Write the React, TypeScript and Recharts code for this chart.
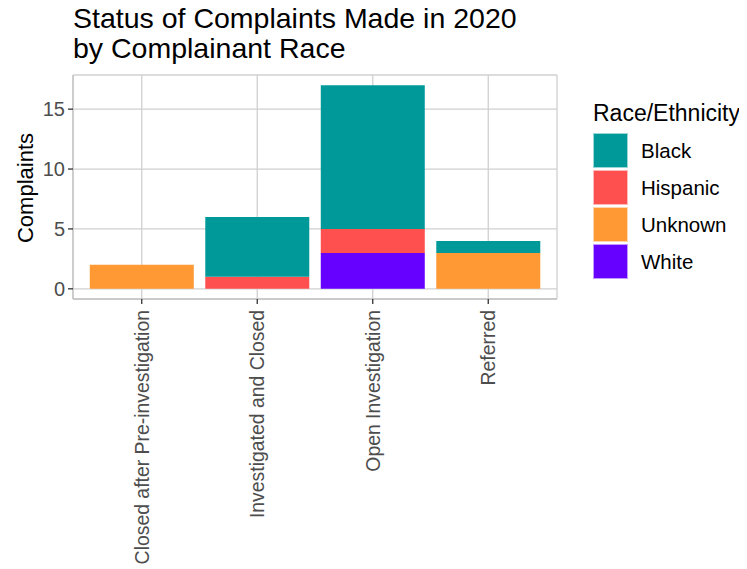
import { BarChart, Bar, XAxis, YAxis, CartesianGrid, Legend } from "recharts";

const categories = [
  "Closed after Pre-investigation",
  "Investigated and Closed",
  "Open Investigation",
  "Referred",
];
const black = [0, 5, 12, 1];
const hispanic = [0, 1, 2, 0];
const unknown = [2, 0, 0, 3];
const white = [0, 0, 3, 0];
const yTicks = [0, 5, 10, 15];

// legend order (top to bottom), stacks are drawn in reverse
const races = ["Black", "Hispanic", "Unknown", "White"];
const raceColors = ["#009999", "#FF5050", "#FF9933", "#6600FF"];

const data = categories.map((status, i) => ({
  status,
  Black: black[i],
  Hispanic: hispanic[i],
  Unknown: unknown[i],
  White: white[i],
}));

const FONT = '"Liberation Sans", Arial, sans-serif';
const TICK_COLOR = "#4d4d4d";

function XTick({ x, payload }: any) {
  const y = 302;
  return (
    <text
      x={x}
      y={y}
      transform={`rotate(-90, ${x}, ${y})`}
      textAnchor="end"
      dy="0.35em"
      fill={TICK_COLOR}
      fontSize={19.4}
      fontFamily={FONT}
    >
      {payload.value}
    </text>
  );
}

function RaceLegend() {
  return (
    <div style={{ fontFamily: FONT, color: "#000" }}>
      <div style={{ fontSize: 23, lineHeight: "26px", marginBottom: 6, whiteSpace: "nowrap" }}>
        Race/Ethnicity
      </div>
      {races.map((r, i) => (
        <div key={r} style={{ display: "flex", alignItems: "center", height: 37 }}>
          <div
            style={{
              width: 35,
              height: 35,
              background: raceColors[i],
              boxSizing: "border-box",
              border: "1px solid rgba(255,255,255,0.6)",
            }}
          />
          <span style={{ fontSize: 20.5, marginLeft: 13 }}>{r}</span>
        </div>
      ))}
    </div>
  );
}

export default function App() {
  const stackOrder = [...races].reverse();
  return (
    <div style={{ position: "relative", width: 731, height: 561, fontFamily: FONT }}>
      <div
        style={{
          position: "absolute",
          left: 65,
          top: -5,
          fontSize: 28.5,
          lineHeight: "30px",
          color: "#000",
          whiteSpace: "nowrap",
        }}
      >
        Status of Complaints Made in 2020
        <br />
        by Complainant Race
      </div>
      <BarChart
        width={731}
        height={561}
        data={data}
        margin={{ top: 67, right: 182, left: 0, bottom: 20 }}
        barCategoryGap="5%"
      >
        <CartesianGrid stroke="#d0d0d0" strokeWidth={1.3} />
        <XAxis
          dataKey="status"
          padding={{ left: 11, right: 11 }}
          height={250}
          interval={0}
          axisLine={{ stroke: "#c4c4c4", strokeWidth: 1.3 }}
          tickLine={{ stroke: "#333333", strokeWidth: 1.3 }}
          tickSize={5}
          tick={<XTick />}
        />
        <YAxis
          width={65}
          domain={[-0.85, 17.85]}
          ticks={yTicks}
          allowDataOverflow
          axisLine={{ stroke: "#c4c4c4", strokeWidth: 1.3 }}
          tickLine={{ stroke: "#333333", strokeWidth: 1.3 }}
          tickSize={5}
          tickMargin={3}
          tick={{ fill: TICK_COLOR, fontSize: 20, fontFamily: FONT }}
          label={{
            content: () => (
              <text
                x={25}
                y={180}
                transform="rotate(-90, 25, 180)"
                textAnchor="middle"
                fontSize={22}
                fontFamily={FONT}
                fill="#000"
              >
                Complaints
              </text>
            ),
          }}
        />
        <Legend
          layout="vertical"
          align="center"
          verticalAlign="middle"
          content={<RaceLegend />}
          wrapperStyle={{ left: 585, top: 92, width: 160, height: 190 }}
        />
        {stackOrder.map((r) => (
          <Bar
            key={r}
            dataKey={r}
            stackId="a"
            fill={raceColors[races.indexOf(r)]}
            isAnimationActive={false}
          />
        ))}
      </BarChart>
    </div>
  );
}
